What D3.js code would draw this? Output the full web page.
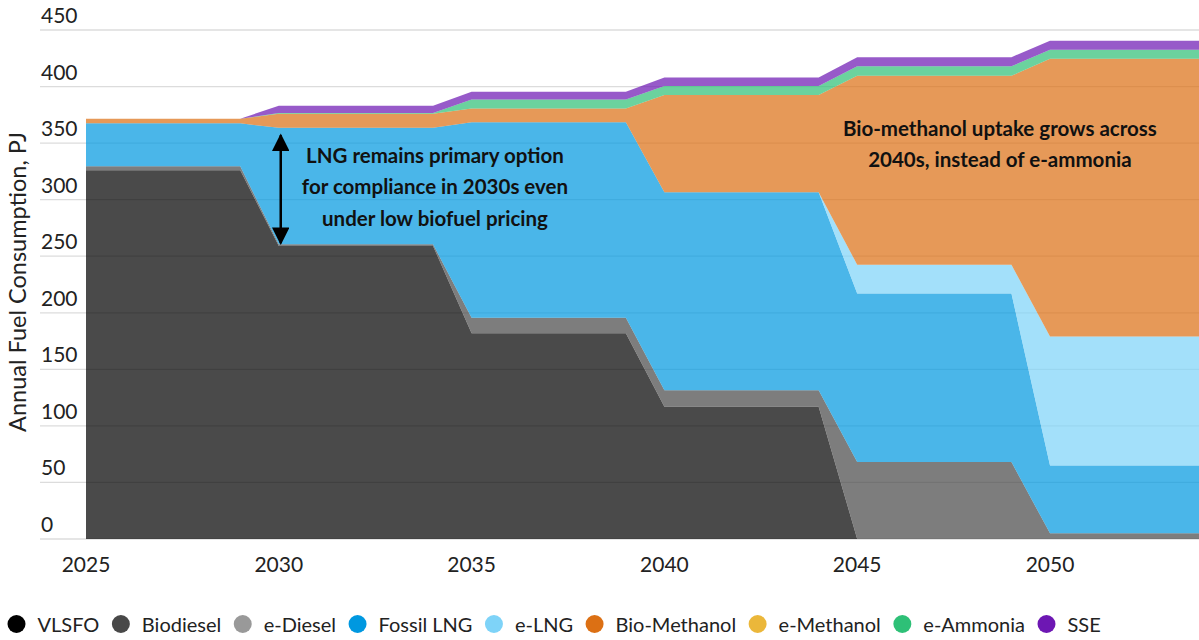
<!DOCTYPE html>
<html>
<head>
<meta charset="utf-8">
<script src="https://cdn.jsdelivr.net/npm/d3@7"></script>
<style>
  body { margin: 0; background: #fff; }
  svg { display: block; font-family: "Source Sans Pro", Lato, sans-serif; }
</style>
</head>
<body>
<div class="chart"></div>
<script>
// years and stacked series (PJ)
const years = [2025, 2026, 2027, 2028, 2029, 2030, 2031, 2032, 2033, 2034,
               2035, 2036, 2037, 2038, 2039, 2040, 2041, 2042, 2043, 2044,
               2045, 2046, 2047, 2048, 2049, 2050, 2051, 2052, 2053, 2054];

const vlsfo       = [326, 326, 326, 326, 326, 259, 259, 259, 259, 259, 182, 182, 182, 182, 182, 117, 117, 117, 117, 117, 0, 0, 0, 0, 0, 0, 0, 0, 0, 0];
const biodiesel   = [3.5, 3.5, 3.5, 3.5, 3.5, 1.5, 1.5, 1.5, 1.5, 1.5, 13.5, 13.5, 13.5, 13.5, 13.5, 14.5, 14.5, 14.5, 14.5, 14.5, 68, 68, 68, 68, 68, 5, 5, 5, 5, 5];
const eDiesel     = [0, 0, 0, 0, 0, 0, 0, 0, 0, 0, 0, 0, 0, 0, 0, 0, 0, 0, 0, 0, 0, 0, 0, 0, 0, 0, 0, 0, 0, 0];
const fossilLng   = [38, 38, 38, 38, 38, 103, 103, 103, 103, 103, 173, 173, 173, 173, 173, 175, 175, 175, 175, 175, 149, 149, 149, 149, 149, 60, 60, 60, 60, 60];
const eLng        = [0, 0, 0, 0, 0, 0, 0, 0, 0, 0, 0, 0, 0, 0, 0, 0, 0, 0, 0, 0, 25.5, 25.5, 25.5, 25.5, 25.5, 114, 114, 114, 114, 114];
const bioMethanol = [4, 4, 4, 4, 4, 12.5, 12.5, 12.5, 12.5, 12.5, 12, 12, 12, 12, 12, 86, 86, 86, 86, 86, 167, 167, 167, 167, 167, 245.5, 245.5, 245.5, 245.5, 245.5];
const eMethanol   = [0, 0, 0, 0, 0, 0, 0, 0, 0, 0, 0, 0, 0, 0, 0, 0, 0, 0, 0, 0, 0, 0, 0, 0, 0, 0, 0, 0, 0, 0];
const eAmmonia    = [0, 0, 0, 0, 0, 0.6, 0.6, 0.6, 0.6, 0.6, 8, 8, 8, 8, 8, 8, 8, 8, 8, 8, 8.5, 8.5, 8.5, 8.5, 8.5, 8, 8, 8, 8, 8];
const sse         = [0, 0, 0, 0, 0, 6.5, 6.5, 6.5, 6.5, 6.5, 7, 7, 7, 7, 7, 7.5, 7.5, 7.5, 7.5, 7.5, 8, 8, 8, 8, 8, 8, 8, 8, 8, 8];

const fuelNames = ['VLSFO', 'Biodiesel', 'e-Diesel', 'Fossil LNG', 'e-LNG', 'Bio-Methanol', 'e-Methanol', 'e-Ammonia', 'SSE'];
const fuelValues = [vlsfo, biodiesel, eDiesel, fossilLng, eLng, bioMethanol, eMethanol, eAmmonia, sse];
const fuelColors = ['#000000', '#484848', '#999999', '#0098e0', '#7ed3f8', '#dc7014', '#ebb73a', '#2ec077', '#6d17b3'];

const yTicks = [0, 50, 100, 150, 200, 250, 300, 350, 400, 450];
const xTicks = [2025, 2030, 2035, 2040, 2045, 2050];

const notes = [
  { year: 2034.05, value: 332.5, lines: ['LNG remains primary option', 'for compliance in 2030s even', 'under low biofuel pricing'] },
  { year: 2048.7, value: 356.5, lines: ['Bio-methanol uptake grows across', '2040s, instead of e-ammonia'] }
];

const width = 1199, height = 640;

// table for the stack
const table = years.map((yr, i) => {
  const row = { year: yr };
  fuelNames.forEach((n, k) => row[n] = fuelValues[k][i]);
  return row;
});

const x = d3.scaleLinear().domain([2025, 2050]).range([86, 1050]);
const y = d3.scaleLinear().domain([0, 450]).range([539, 30]);

const svg = d3.select('.chart').append('svg')
  .attr('width', width)
  .attr('height', height)
  .attr('viewBox', [0, 0, width, height]);

// gridlines + y labels
const grid = svg.append('g');
grid.selectAll('line')
  .data(yTicks)
  .join('line')
  .attr('x1', 40).attr('x2', width)
  .attr('y1', d => y(d)).attr('y2', d => y(d))
  .attr('stroke', '#dcdcdc')
  .attr('stroke-width', 1.3);

grid.selectAll('text')
  .data(yTicks)
  .join('text')
  .attr('x', 41)
  .attr('y', d => y(d) - 7)
  .attr('font-size', 21)
  .attr('fill', '#222')
  .text(d => d);

// stacked areas
const stack = d3.stack().keys(fuelNames);
const series = stack(table);

const area = d3.area()
  .x(d => x(d.data.year))
  .y0(d => y(d[0]))
  .y1(d => y(d[1]));

svg.append('g')
  .selectAll('path')
  .data(series)
  .join('path')
  .attr('d', area)
  .attr('fill', (d, i) => fuelColors[i])
  .attr('fill-opacity', 0.71);

// x labels
svg.append('g')
  .selectAll('text')
  .data(xTicks)
  .join('text')
  .attr('x', d => x(d))
  .attr('y', 572)
  .attr('text-anchor', 'middle')
  .attr('font-size', 21)
  .attr('fill', '#222')
  .text(d => d);

// y title
svg.append('text')
  .attr('transform', 'translate(26,282) rotate(-90)')
  .attr('text-anchor', 'middle')
  .attr('font-size', 23.5)
  .attr('fill', '#222')
  .text('Annual Fuel Consumption, PJ');

// double arrow at 2030
svg.append('defs').append('marker')
  .attr('id', 'head')
  .attr('viewBox', '0 0 10 10')
  .attr('refX', 9).attr('refY', 5)
  .attr('markerWidth', 7).attr('markerHeight', 7)
  .attr('orient', 'auto-start-reverse')
  .append('path')
  .attr('d', 'M0,0 L10,5 L0,10 Z')
  .attr('fill', '#000');

svg.append('line')
  .attr('x1', x(2030.05)).attr('x2', x(2030.05))
  .attr('y1', y(357)).attr('y2', y(261.5))
  .attr('stroke', '#000')
  .attr('stroke-width', 2.5)
  .attr('marker-start', 'url(#head)')
  .attr('marker-end', 'url(#head)');

// annotations
notes.forEach(n => {
  svg.append('text')
    .attr('x', x(n.year))
    .attr('y', y(n.value))
    .attr('text-anchor', 'middle')
    .attr('font-size', 20.5)
    .attr('font-weight', 'bold')
    .attr('fill', '#111')
    .selectAll('tspan')
    .data(n.lines)
    .join('tspan')
    .attr('x', x(n.year))
    .attr('dy', (d, i) => i ? 31.5 : 0)
    .text(d => d);
});

// legend
const legend = svg.append('g').attr('transform', 'translate(0,624)');
let cx = 16.5;
fuelNames.forEach((n, i) => {
  const g = legend.append('g');
  g.append('circle')
    .attr('cx', cx).attr('cy', 0).attr('r', 9)
    .attr('fill', fuelColors[i]);
  const t = g.append('text')
    .attr('x', cx + 21)
    .attr('y', 8)
    .attr('font-size', 20)
    .attr('fill', '#222')
    .text(n);
  cx = cx + 21 + t.node().getComputedTextLength() + 21.5;
});
</script>
</body>
</html>
